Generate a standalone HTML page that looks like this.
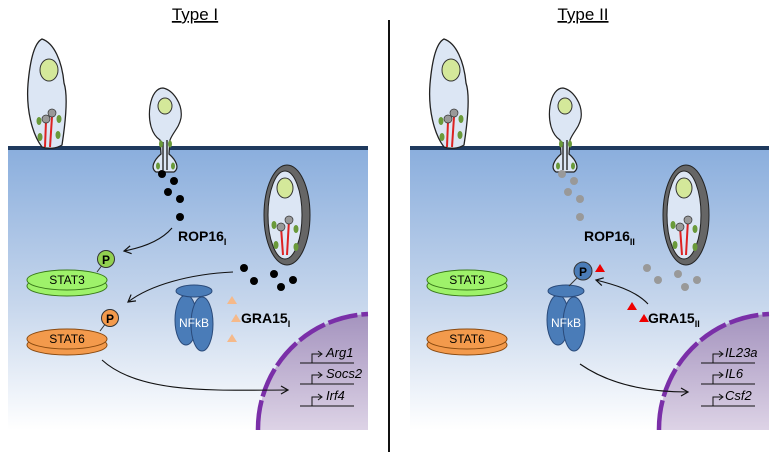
<!DOCTYPE html>
<html><head><meta charset="utf-8"><style>body{margin:0;background:#fff}svg{display:block}</style></head><body>
<svg width="775" height="452" viewBox="0 0 775 452" xmlns="http://www.w3.org/2000/svg" font-family="Liberation Sans, Arial, sans-serif">
<defs>
<linearGradient id="bg" x1="0" y1="0" x2="0" y2="1">
<stop offset="0" stop-color="#8aaedd"/><stop offset="0.55" stop-color="#c6d6ec"/><stop offset="1" stop-color="#ffffff"/>
</linearGradient>
<linearGradient id="nuc" x1="0" y1="0" x2="0" y2="1">
<stop offset="0" stop-color="#a493be"/><stop offset="1" stop-color="#ddd3e6"/>
</linearGradient>
<marker id="ar" markerWidth="10" markerHeight="10" refX="8" refY="5" orient="auto" markerUnits="userSpaceOnUse"><path d="M1,1 L8,5 L1,9" fill="none" stroke="#111" stroke-width="1.2"/></marker>
<g id="para">
<path d="M14,0 C26,4 34,22 36,44 C40,56 38,80 34,106 C28,110 20,110 14,108 C4,95 -2,70 0,45 C2,22 6,4 14,0Z" fill="#dce6f4" stroke="#222" stroke-width="1.3"/>
<ellipse cx="21" cy="31" rx="9" ry="11" fill="#d4e89a" stroke="#333"/>
<path d="M17,108 L18,82 M22,108 L24,78" stroke="#d22" stroke-width="2"/>
<circle cx="18" cy="80" r="4" fill="#999" stroke="#333" stroke-width=".7"/><circle cx="24" cy="74" r="4" fill="#999" stroke="#333" stroke-width=".7"/>
<ellipse cx="11" cy="82" rx="2.5" ry="4" fill="#6a9a3a"/><ellipse cx="31" cy="80" rx="2.5" ry="4" fill="#6a9a3a"/><ellipse cx="30" cy="96" rx="2.5" ry="4" fill="#6a9a3a"/><ellipse cx="12" cy="98" rx="2.5" ry="4" fill="#6a9a3a"/>
</g>
<g id="small">
<path d="M14,0 C24,2 34,16 32,30 C30,40 24,44 21,52 L20,66 C27,72 31,80 25,84 L7,84 C1,80 5,72 12,66 L11,52 C2,46 -1,32 1,18 C3,6 8,0 14,0Z" fill="#dce6f4" stroke="#222" stroke-width="1.2"/>
<ellipse cx="16" cy="18" rx="7" ry="8" fill="#d4e89a" stroke="#333"/>
<path d="M14,82 L14,54 M18,82 L18,52" stroke="#333" stroke-width="1.5"/>
<ellipse cx="12" cy="56" rx="2" ry="3.5" fill="#6a9a3a"/><ellipse cx="21" cy="56" rx="2" ry="3.5" fill="#6a9a3a"/><ellipse cx="9" cy="78" rx="2" ry="3.5" fill="#6a9a3a"/><ellipse cx="24" cy="78" rx="2" ry="3.5" fill="#6a9a3a"/>
</g>
<g id="vac">
<ellipse cx="0" cy="0" rx="23" ry="50" fill="#666" stroke="#222"/>
<ellipse cx="-2" cy="0" rx="17" ry="44" fill="#dce6f4" stroke="#222"/>
<ellipse cx="-2" cy="-27" rx="8" ry="10" fill="#d4e89a" stroke="#333"/>
<path d="M-4,40 L-6,12 M0,40 L2,5" stroke="#d22" stroke-width="2"/>
<circle cx="-6" cy="12" r="4" fill="#999" stroke="#333" stroke-width=".7"/><circle cx="2" cy="5" r="4" fill="#999" stroke="#333" stroke-width=".7"/>
<ellipse cx="-13" cy="10" rx="2.5" ry="4" fill="#6a9a3a"/><ellipse cx="9" cy="14" rx="2.5" ry="4" fill="#6a9a3a"/><ellipse cx="-11" cy="30" rx="2.5" ry="4" fill="#6a9a3a"/><ellipse cx="9" cy="32" rx="2.5" ry="4" fill="#6a9a3a"/>
</g>
<g id="nfkb">
<ellipse cx="-8" cy="29" rx="11" ry="25" fill="#4a7cb8" stroke="#2a4a7a"/>
<ellipse cx="8" cy="33" rx="11" ry="27" fill="#4a7cb8" stroke="#2a4a7a"/>
<ellipse cx="0" cy="0" rx="18" ry="6" fill="#4a7cb8" stroke="#2a4a7a"/>
<text x="0" y="36" font-size="12" fill="#fff" text-anchor="middle">NFkB</text>
</g>
<g id="stat3"><ellipse cx="0" cy="6" rx="40" ry="10" fill="#9ef26a" stroke="#3a7a1a"/><ellipse cx="0" cy="0" rx="40" ry="10" fill="#9ef26a" stroke="#3a7a1a"/><text x="0" y="4" font-size="12" text-anchor="middle">STAT3</text></g>
<g id="stat6"><ellipse cx="0" cy="6" rx="40" ry="10" fill="#f39a4c" stroke="#8a4a10"/><ellipse cx="0" cy="0" rx="40" ry="10" fill="#f39a4c" stroke="#8a4a10"/><text x="0" y="4" font-size="12" text-anchor="middle">STAT6</text></g>
<g id="nucl">
<path d="M258,430 A115,115 0 0 1 368,314 L368,430Z" fill="url(#nuc)"/>
<path d="M258,430 A115,115 0 0 1 368,314" fill="none" stroke="#7a2fa8" stroke-width="4.5" stroke-dasharray="30,4"/>
<path d="M300,363 H354 M300,384 H354 M300,406 H354" stroke="#111" stroke-width="1"/>
<path d="M312,363 V354 H322 M312,384 V375 H322 M312,406 V397 H322" fill="none" stroke="#111" stroke-width="1"/>
<path d="M318,351 L322,354 L318,357 M318,372 L322,375 L318,378 M318,394 L322,397 L318,400" fill="none" stroke="#111"/>
</g>
</defs>
<text x="195" y="20" font-size="17" text-anchor="middle" text-decoration="underline">Type I</text>
<text x="583" y="20" font-size="17" text-anchor="middle" text-decoration="underline">Type II</text>
<line x1="389" y1="20" x2="389" y2="452" stroke="#111" stroke-width="2"/>
<!-- LEFT -->
<rect x="8" y="148" width="360" height="282" fill="url(#bg)"/>
<use href="#nucl"/>
<rect x="8" y="146" width="360" height="4" fill="#1f3a5e"/>
<use href="#para" x="28" y="39"/>
<use href="#small" x="149" y="88"/>
<use href="#vac" x="287" y="215"/>
<g fill="#000"><circle cx="162" cy="174" r="4"/><circle cx="174" cy="181" r="4"/><circle cx="168" cy="192" r="4"/><circle cx="180" cy="199" r="4"/><circle cx="180" cy="217" r="4"/>
<circle cx="244" cy="268" r="4"/><circle cx="254" cy="281" r="4"/><circle cx="274" cy="274" r="4"/><circle cx="293" cy="280" r="4"/><circle cx="281" cy="287" r="4"/></g>
<text x="178" y="241" font-size="14" font-weight="bold">ROP16<tspan font-size="9" dy="4">I</tspan></text>
<text x="241" y="323" font-size="14" font-weight="bold">GRA15<tspan font-size="9" dy="4">I</tspan></text>
<g fill="#f5b98a"><path d="M232,296 L237,304 L227,304Z"/><path d="M236,314 L241,322 L231,322Z"/><path d="M232,334 L237,342 L227,342Z"/></g>
<use href="#nfkb" x="194" y="291"/>
<use href="#stat3" x="67" y="280"/>
<use href="#stat6" x="67" y="339"/>
<line x1="97" y1="272" x2="103" y2="264" stroke="#333"/><circle cx="106" cy="259" r="8.5" fill="#92d050" stroke="#333"/><text x="106" y="264" font-size="12" font-weight="bold" text-anchor="middle">P</text>
<line x1="100" y1="331" x2="106" y2="323" stroke="#333"/><circle cx="110" cy="318" r="8.5" fill="#f39a4c" stroke="#333"/><text x="110" y="323" font-size="12" font-weight="bold" text-anchor="middle">P</text>
<path d="M172,228 C160,242 140,248 124,251" fill="none" stroke="#111" stroke-width="1.1" marker-end="url(#ar)"/>
<path d="M233,272 C190,274 150,285 128,302" fill="none" stroke="#111" stroke-width="1.1" marker-end="url(#ar)"/>
<path d="M102,360 C140,395 220,390 288,390" fill="none" stroke="#111" stroke-width="1.1" marker-end="url(#ar)"/>
<g font-size="13" font-style="italic"><text x="326" y="357">Arg1</text><text x="326" y="378">Socs2</text><text x="326" y="400">Irf4</text></g>
<!-- RIGHT -->
<rect x="410" y="148" width="359" height="282" fill="url(#bg)"/>
<g transform="translate(401,0)"><use href="#nucl"/></g>
<rect x="410" y="146" width="359" height="4" fill="#1f3a5e"/>
<use href="#para" x="430" y="39"/>
<use href="#small" x="549" y="88"/>
<use href="#vac" x="686" y="215"/>
<g fill="#999"><circle cx="562" cy="174" r="4"/><circle cx="574" cy="181" r="4"/><circle cx="568" cy="192" r="4"/><circle cx="580" cy="199" r="4"/><circle cx="580" cy="217" r="4"/>
<circle cx="647" cy="268" r="4"/><circle cx="658" cy="280" r="4"/><circle cx="678" cy="274" r="4"/><circle cx="697" cy="280" r="4"/><circle cx="685" cy="287" r="4"/></g>
<text x="584" y="241" font-size="14" font-weight="bold">ROP16<tspan font-size="9" dy="4">II</tspan></text>
<text x="648" y="323" font-size="14" font-weight="bold">GRA15<tspan font-size="9" dy="4">II</tspan></text>
<g fill="#e00"><path d="M600,264 L605,272 L595,272Z"/><path d="M632,302 L637,310 L627,310Z"/><path d="M644,314 L649,322 L639,322Z"/></g>
<use href="#nfkb" x="566" y="291"/>
<line x1="569" y1="286" x2="577" y2="278" stroke="#333"/><circle cx="583" cy="271" r="9" fill="#4a7cb8" stroke="#333"/><text x="583" y="276" font-size="12" font-weight="bold" text-anchor="middle">P</text>
<use href="#stat3" x="467" y="280"/>
<use href="#stat6" x="467" y="339"/>
<path d="M648,304 C635,290 612,284 596,280" fill="none" stroke="#111" stroke-width="1.1" marker-end="url(#ar)"/>
<path d="M580,364 C610,385 650,392 688,392" fill="none" stroke="#111" stroke-width="1.1" marker-end="url(#ar)"/>
<g font-size="13" font-style="italic"><text x="725" y="357">IL23a</text><text x="725" y="378">IL6</text><text x="725" y="400">Csf2</text></g>
</svg>
</body></html>
